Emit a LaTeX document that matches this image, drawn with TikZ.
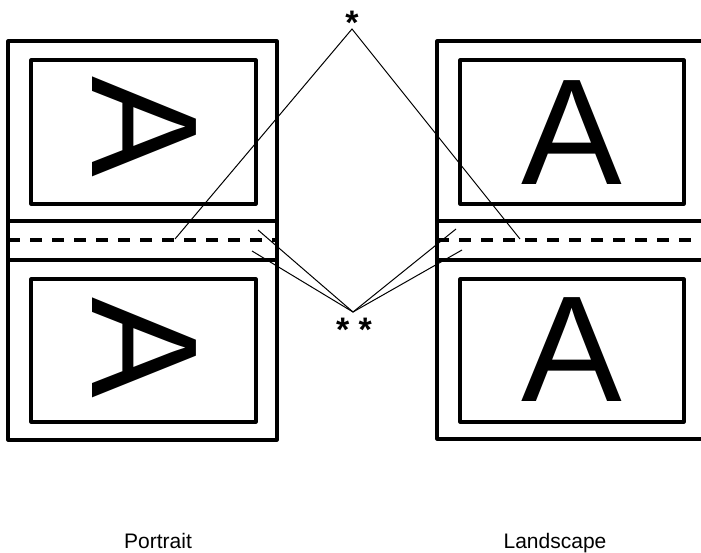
\documentclass[tikz,border=0pt]{standalone}
\usepackage{fontspec}
\setmainfont{Liberation Sans}
\begin{document}
\begin{tikzpicture}[x=1pt,y=-1pt,
  outer/.style={line width=3.1pt,line join=round},
  inner/.style={line width=3.1pt,line join=round},
  fold/.style={line width=3.1pt,dash pattern=on 12pt off 10pt},
  leader/.style={line width=1pt},
  bigA/.style={inner sep=0pt,font=\fontsize{151}{151}\selectfont},
  star/.style={inner sep=0pt,anchor=base,font=\fontsize{34}{34}\selectfont\bfseries},
  caption/.style={inner sep=0pt,anchor=base,font=\fontsize{21}{21}\selectfont}]
\useasboundingbox (0,0) rectangle (701,553);
% left panel (portrait)
\draw[outer] (8,41) rectangle (277,440);
\draw[outer] (8,221) -- (277,221);
\draw[outer] (8,260) -- (277,260);
\draw[fold] (8,240) -- (277,240);
\draw[inner] (31,60) rectangle (256,204);
\draw[inner] (31,279) rectangle (256,422);
\node[bigA,rotate=-90] (pa1) at (144,127) {A};
\node[bigA,rotate=-90] (pa2) at (144,348) {A};
% right panel (landscape)
\draw[outer] (701,41) -- (437,41) -- (437,439) -- (701,439);
\draw[outer] (437,221) -- (701,221);
\draw[outer] (437,260) -- (701,260);
\draw[fold] (437,240) -- (701,240);
\draw[inner] (460,60) rectangle (684,204);
\draw[inner] (460,279) rectangle (684,422);
\node[bigA] (la1) at (572,133) {A};
\node[bigA] (la2) at (572,350) {A};
% stars and leaders
\node[star] (s1) at (352,35) {*};
\node[star] (s2) at (354,341) {* *};
\coordinate (ap1) at (352,29);
\coordinate (ap2) at (353,312);
\coordinate (lf) at (175,239);
\coordinate (rf) at (520,239);
\coordinate (lu) at (258,230);
\coordinate (ll) at (252,251);
\coordinate (ru) at (456,229);
\coordinate (rl) at (462,250);
\draw[leader] (lf) -- (ap1) -- (rf);
\draw[leader] (lu) -- (ap2) -- (ru);
\draw[leader] (ll) -- (ap2) -- (rl);
% captions
\node[caption] (cp) at (158,548) {Portrait};
\node[caption] (cl) at (555,548) {Landscape};
\end{tikzpicture}
\end{document}
